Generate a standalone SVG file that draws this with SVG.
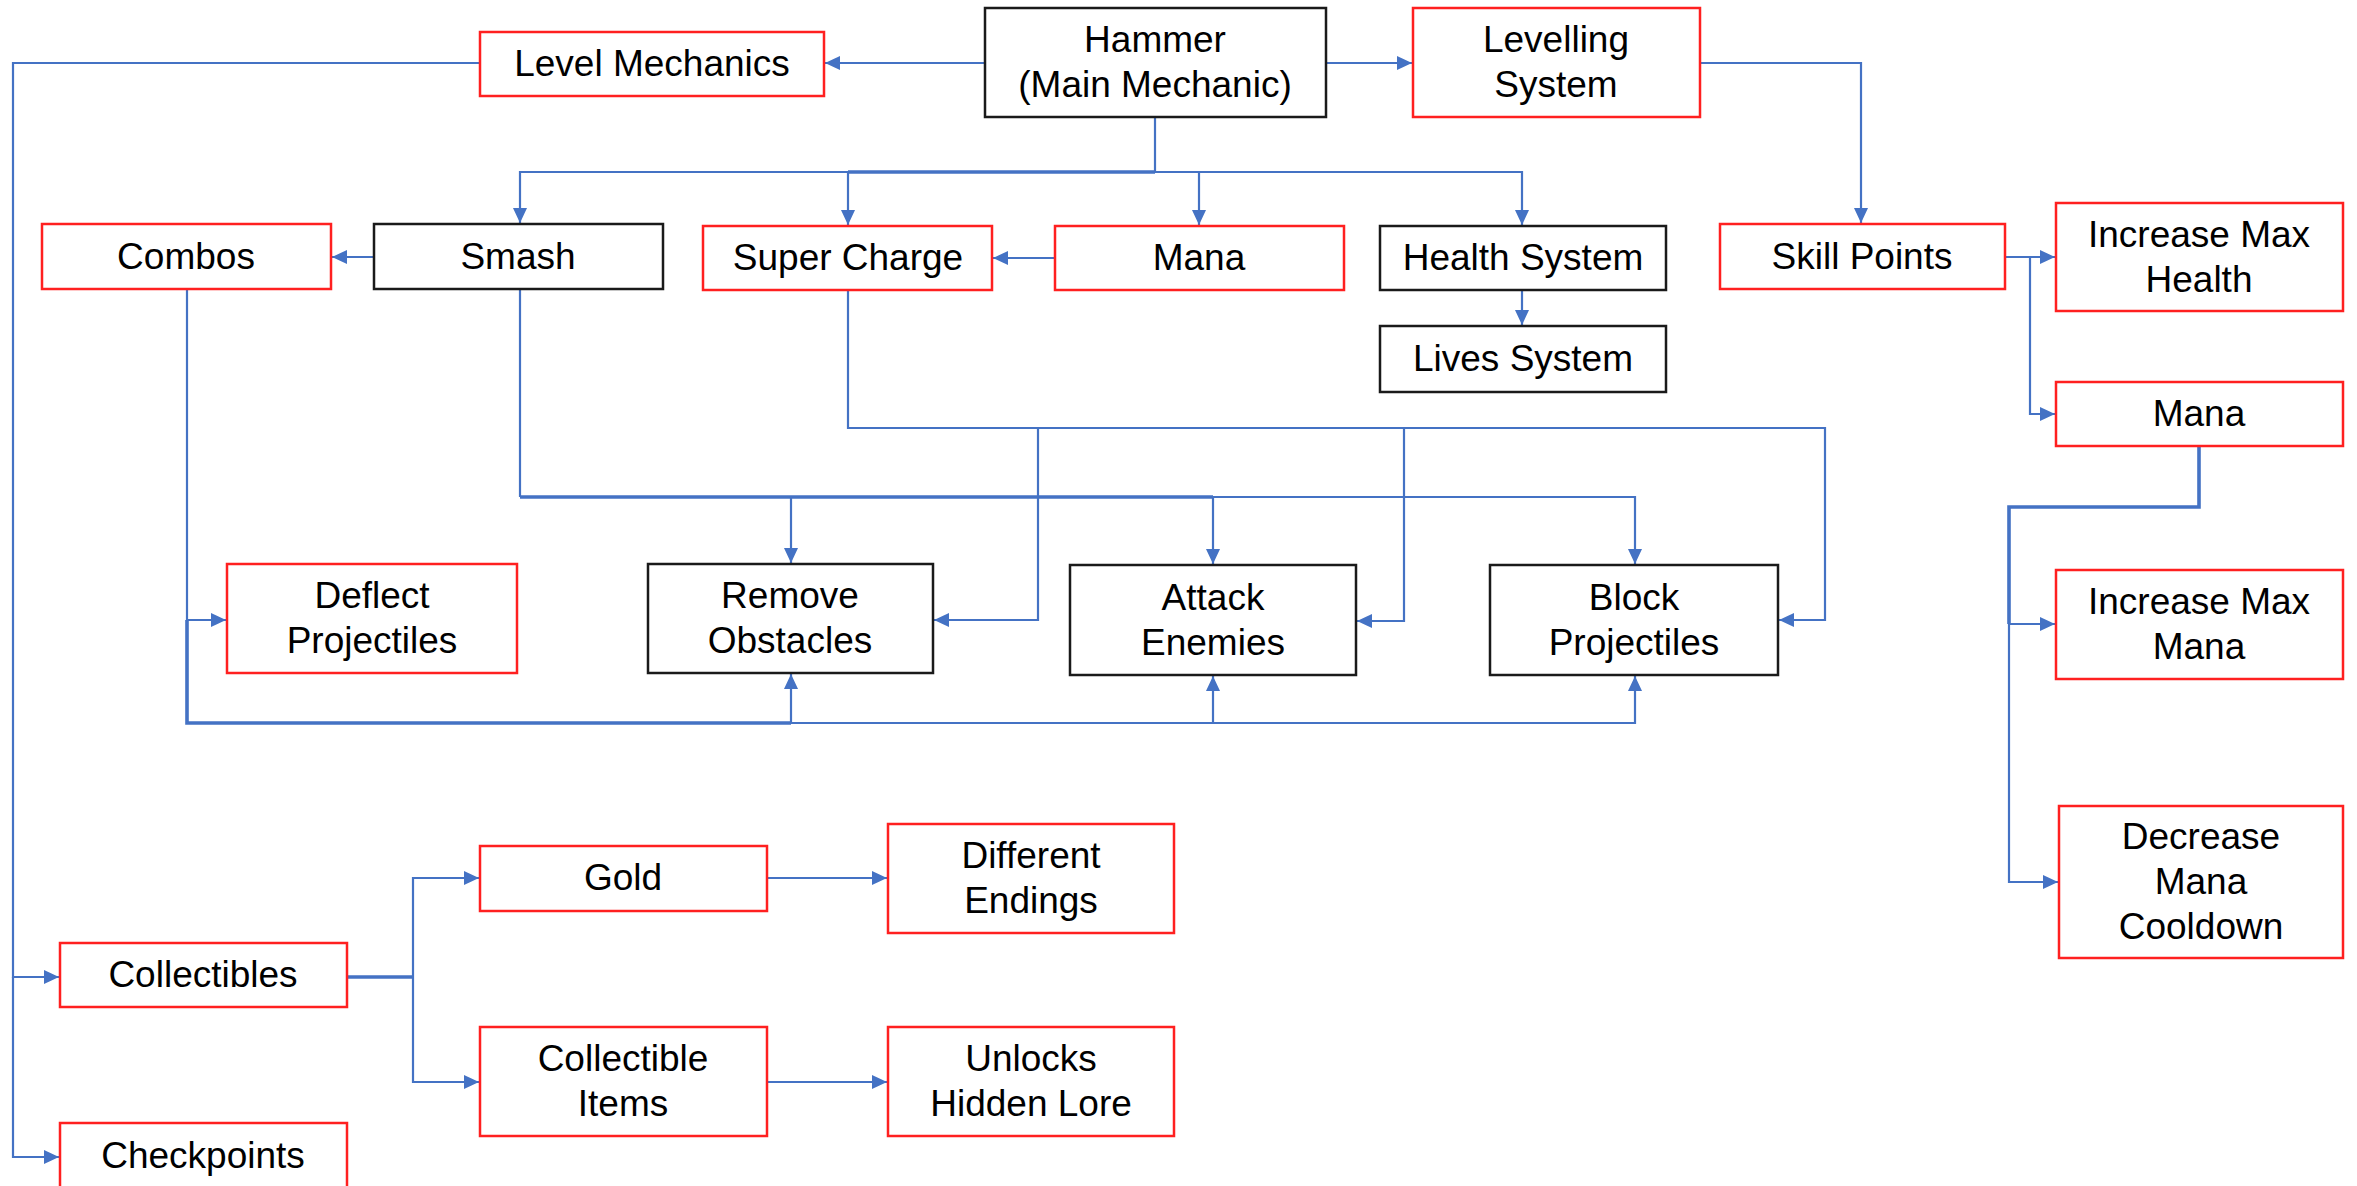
<svg xmlns="http://www.w3.org/2000/svg" width="2357" height="1186" viewBox="0 0 2357 1186">
<style>
  .box rect { fill: #ffffff; stroke-width: 2.5; }
  .red rect { stroke: #FF2020; }
  .blk rect { stroke: #1a1a1a; }
  .box text { font-family: "Liberation Sans", Arial, sans-serif; font-size: 37px; fill: #000; text-anchor: middle; }
  #connectors path { fill: none; stroke: #4472C4; stroke-width: 2.2; marker-end: url(#ah); }
  #connectors path.thick { stroke-width: 3.6; }
  #connectors path.plain { marker-end: none; }
</style>
<defs>
  <marker id="ah" markerUnits="userSpaceOnUse" markerWidth="15" markerHeight="14" refX="15" refY="7" orient="auto">
    <path d="M0,0 L15,7 L0,14 z" fill="#4472C4"/>
  </marker>
</defs>
<rect width="2357" height="1186" fill="#ffffff"/>

<g id="connectors">
  <path d="M985,63 H825"/>
  <path d="M1326,63 H1412"/>
  <path d="M480,63 H13 V977 H59"/>
  <path d="M13,977 V1157 H59"/>
  <path d="M1700,63 H1861 V223"/>
  <path d="M1155,117 V172 H520 V223"/>
  <path class="thick plain" d="M848,172 H1155"/>
  <path d="M848,172 V225"/>
  <path d="M1199,172 V225"/>
  <path d="M1155,172 H1522 V225"/>
  <path d="M374,257 H332"/>
  <path d="M1055,258 H993"/>
  <path d="M1522,290 V325"/>
  <path d="M2005,257 H2055"/>
  <path d="M2030,257 V414 H2055"/>
  <path class="thick plain" d="M2199,446 V507 H2009 V624"/>
  <path d="M2009,624 H2055"/>
  <path d="M2009,624 V882 H2058"/>
  <path d="M187,289 V620 H226"/>
  <path class="thick plain" d="M187,620 V723 H791"/>
  <path d="M791,723 V674"/>
  <path d="M791,723 H1213 V676"/>
  <path d="M1213,723 H1635 V676"/>
  <path class="plain" d="M520,289 V497"/>
  <path class="thick plain" d="M520,497 H1213"/>
  <path d="M791,497 V563"/>
  <path d="M1213,497 V564"/>
  <path d="M1213,497 H1635 V564"/>
  <path d="M848,290 V428 H1038 V620 H934"/>
  <path d="M1038,428 H1404 V621 H1357"/>
  <path d="M1404,428 H1825 V620 H1779"/>
  <path class="thick plain" d="M347,977 H413"/>
  <path d="M413,977 V878 H479"/>
  <path d="M413,977 V1082 H479"/>
  <path d="M767,878 H887"/>
  <path d="M767,1082 H887"/>
</g>

<g id="hammer" class="box blk"><rect x="985" y="8" width="341" height="109"/><text x="1155" y="52">Hammer</text><text x="1155" y="97">(Main Mechanic)</text></g>
<g id="level-mechanics" class="box red"><rect x="480" y="32" width="344" height="64"/><text x="652" y="76">Level Mechanics</text></g>
<g id="levelling-system" class="box red"><rect x="1413" y="8" width="287" height="109"/><text x="1556" y="52">Levelling</text><text x="1556" y="97">System</text></g>
<g id="combos" class="box red"><rect x="42" y="224" width="289" height="65"/><text x="186" y="269">Combos</text></g>
<g id="smash" class="box blk"><rect x="374" y="224" width="289" height="65"/><text x="518" y="269">Smash</text></g>
<g id="super-charge" class="box red"><rect x="703" y="226" width="289" height="64"/><text x="848" y="270">Super Charge</text></g>
<g id="mana" class="box red"><rect x="1055" y="226" width="289" height="64"/><text x="1199" y="270">Mana</text></g>
<g id="health-system" class="box blk"><rect x="1380" y="226" width="286" height="64"/><text x="1523" y="270">Health System</text></g>
<g id="lives-system" class="box blk"><rect x="1380" y="326" width="286" height="66"/><text x="1523" y="371">Lives System</text></g>
<g id="skill-points" class="box red"><rect x="1720" y="224" width="285" height="65"/><text x="1862" y="269">Skill Points</text></g>
<g id="increase-max-health" class="box red"><rect x="2056" y="203" width="287" height="108"/><text x="2199" y="247">Increase Max</text><text x="2199" y="292">Health</text></g>
<g id="mana-2" class="box red"><rect x="2056" y="382" width="287" height="64"/><text x="2199" y="426">Mana</text></g>
<g id="increase-max-mana" class="box red"><rect x="2056" y="570" width="287" height="109"/><text x="2199" y="614">Increase Max</text><text x="2199" y="659">Mana</text></g>
<g id="decrease-mana-cooldown" class="box red"><rect x="2059" y="806" width="284" height="152"/><text x="2201" y="849">Decrease</text><text x="2201" y="894">Mana</text><text x="2201" y="939">Cooldown</text></g>
<g id="deflect-projectiles" class="box red"><rect x="227" y="564" width="290" height="109"/><text x="372" y="608">Deflect</text><text x="372" y="653">Projectiles</text></g>
<g id="remove-obstacles" class="box blk"><rect x="648" y="564" width="285" height="109"/><text x="790" y="608">Remove</text><text x="790" y="653">Obstacles</text></g>
<g id="attack-enemies" class="box blk"><rect x="1070" y="565" width="286" height="110"/><text x="1213" y="610">Attack</text><text x="1213" y="655">Enemies</text></g>
<g id="block-projectiles" class="box blk"><rect x="1490" y="565" width="288" height="110"/><text x="1634" y="610">Block</text><text x="1634" y="655">Projectiles</text></g>
<g id="collectibles" class="box red"><rect x="60" y="943" width="287" height="64"/><text x="203" y="987">Collectibles</text></g>
<g id="checkpoints" class="box red"><rect x="60" y="1123" width="287" height="70"/><text x="203" y="1168">Checkpoints</text></g>
<g id="gold" class="box red"><rect x="480" y="846" width="287" height="65"/><text x="623" y="890">Gold</text></g>
<g id="different-endings" class="box red"><rect x="888" y="824" width="286" height="109"/><text x="1031" y="868">Different</text><text x="1031" y="913">Endings</text></g>
<g id="collectible-items" class="box red"><rect x="480" y="1027" width="287" height="109"/><text x="623" y="1071">Collectible</text><text x="623" y="1116">Items</text></g>
<g id="unlocks-hidden-lore" class="box red"><rect x="888" y="1027" width="286" height="109"/><text x="1031" y="1071">Unlocks</text><text x="1031" y="1116">Hidden Lore</text></g>
</svg>
